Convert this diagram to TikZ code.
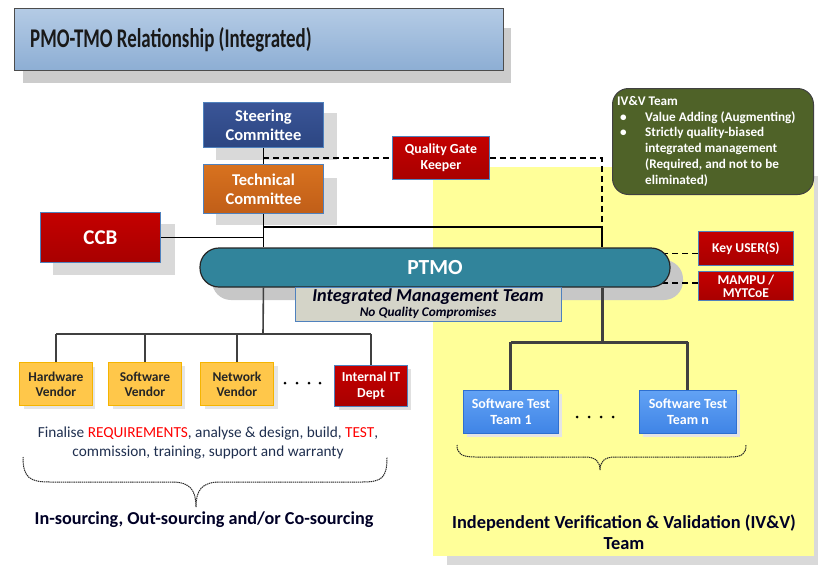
\documentclass[tikz,border=0pt]{standalone}
\usepackage{fontspec}
\setmainfont{Carlito}
\newfontfamily\titlefont[FakeStretch=0.70]{Carlito}
\usetikzlibrary{backgrounds,calc}
\definecolor{cyellow}{HTML}{FFFF99}
\definecolor{cshadow}{HTML}{D9D9D9}
\definecolor{cborder}{HTML}{4F81BD}
\definecolor{cteal}{HTML}{31849B}
\definecolor{colive}{HTML}{4F6228}
\definecolor{cvendor}{HTML}{FFC74A}
\definecolor{cvendorb}{HTML}{F5B400}
\definecolor{cnavy}{HTML}{1F2F4F}
\definecolor{cline}{HTML}{404040}
\definecolor{ctitletop}{HTML}{B4CBE5}
\definecolor{ctitlebot}{HTML}{8DAED4}
\definecolor{csteertop}{HTML}{3A5597}
\definecolor{csteerbot}{HTML}{2C4682}
\definecolor{ctechtop}{HTML}{D8721F}
\definecolor{ctechbot}{HTML}{C05E18}
\definecolor{credtop}{HTML}{C40000}
\definecolor{credbot}{HTML}{A80000}
\definecolor{ctesttop}{HTML}{62A2F4}
\definecolor{ctestbot}{HTML}{3F84E6}
\definecolor{ctestb}{HTML}{2E6FD0}
\definecolor{cimt}{HTML}{D4D4C8}
\begin{document}
\begin{tikzpicture}[x=1pt,y=-1pt,
  box/.style={draw=cborder, line width=0.9pt, inner sep=0pt, anchor=north west, align=center, font=\bfseries},
  redbox/.style={box, top color=credtop, bottom color=credbot, text=white},
  vendbox/.style={box, fill=cvendor, draw=cvendorb, text=black!85, minimum width=73pt, minimum height=43pt, font=\bfseries\fontsize{13.5}{15}\selectfont},
  testbox/.style={box, top color=ctesttop, bottom color=ctestbot, draw=ctestb, text=white, minimum height=43pt, font=\bfseries\fontsize{14}{16}\selectfont},
  conn/.style={line width=1.6pt, black},
  dashc/.style={line width=1.2pt, black, dash pattern=on 6pt off 4pt},
  treel/.style={line width=1.6pt, cline},
  treer/.style={line width=3pt, cline},
  bracec/.style={line width=1pt, black!85, dash pattern=on 1.4pt off 0.7pt},
  shadowc/.style={fill=cshadow, draw=none}]
\useasboundingbox (0,0) rectangle (818,565);

% title
\node[box, draw=black!70, top color=ctitletop, bottom color=ctitlebot, minimum width=489pt, minimum height=62pt] (title) at (14,8) {};
\node[anchor=west, inner sep=0pt, text=black!90, font=\titlefont\bfseries\fontsize{27}{30}\selectfont] (titletext) at (30,40) {PMO-TMO Relationship (Integrated)};

% top nodes
\node[box, top color=csteertop, bottom color=csteerbot, text=white, minimum width=120pt, minimum height=45pt, draw=cborder, font=\bfseries\fontsize{16.5}{19}\selectfont] (st) at (203,102) {Steering\\Committee};
\node[box, top color=ctechtop, bottom color=ctechbot, text=white, minimum width=120pt, minimum height=49pt, draw=cborder, font=\bfseries\fontsize{16.5}{19}\selectfont] (tc) at (203,164) {Technical\\Committee};
\node[redbox, minimum width=97pt, minimum height=43pt, font=\bfseries\fontsize{13.8}{15.5}\selectfont] (qg) at (392,136) {Quality Gate\\Keeper};
\node[redbox, minimum width=120pt, minimum height=50pt, font=\bfseries\fontsize{21}{22}\selectfont] (ccb) at (40,212) {CCB};

% IV&V note
\node[box, draw=black!75, line width=1pt, fill=colive, rounded corners=16pt, minimum width=201pt, minimum height=106pt] (ivv) at (612,88) {};
\node[anchor=north west, inner sep=0pt, text=white, align=left, font=\bfseries\fontsize{13.2}{15.8}\selectfont] (ivvtext) at (617,94) {%
\begin{tabular}{@{}l@{}l@{}}
\multicolumn{2}{@{}l}{IV\&V Team}\\
\makebox[28pt][l]{\hspace{3pt}\textbullet} & Value Adding (Augmenting)\\
\makebox[28pt][l]{\hspace{3pt}\textbullet} & Strictly quality-biased\\
 & integrated management\\
 & (Required, and not to be\\
 & eliminated)
\end{tabular}};

% PTMO
\node[draw=black!85, line width=1.2pt, fill=cteal, rounded corners=19pt, minimum width=470pt, minimum height=39pt, inner sep=0pt, text=white, font=\bfseries\fontsize{21.5}{23}\selectfont] (pt) at (435,267.5) {PTMO};
\node[box, fill=cimt, draw=cborder, minimum width=266pt, minimum height=34pt] (imt) at (295,287) {};
\node[inner sep=0pt, text=black!90!blue, font=\bfseries\itshape\fontsize{18.2}{19}\selectfont] (imtt) at (428,297) {Integrated Management Team};
\node[inner sep=0pt, text=black!90!blue, font=\bfseries\itshape\fontsize{13.3}{14}\selectfont] (imts) at (428,313) {No Quality Compromises};

% right red boxes
\node[redbox, minimum width=95pt, minimum height=34pt, font=\bfseries\fontsize{13.5}{15}\selectfont] (ku) at (698,231) {Key USER(S)};
\node[redbox, minimum width=95pt, minimum height=29pt, font=\bfseries\fontsize{13.5}{13}\selectfont] (mm) at (698,271) {MAMPU /\\MYTCoE};

% vendors
\node[vendbox] (hw) at (19,362) {Hardware\\Vendor};
\node[vendbox] (sw) at (108,362) {Software\\Vendor};
\node[vendbox] (nw) at (200,362) {Network\\Vendor};
\node[redbox, minimum width=73pt, minimum height=41pt, font=\bfseries\fontsize{13.7}{16}\selectfont] (it) at (334,365) {Internal IT\\Dept};

% test teams
\node[testbox, minimum width=95pt] (t1) at (463,390) {Software Test\\Team 1};
\node[testbox, minimum width=97pt] (tn) at (639,390) {Software Test\\Team n};

% texts
\node[align=center, inner sep=0pt, text=cnavy, font=\fontsize{15.3}{19}\selectfont] (fin) at (208,443) {Finalise \textcolor{red}{REQUIREMENTS}, analyse \& design, build, \textcolor{red}{TEST},\\commission, training, support and warranty};
\node[inner sep=0pt, text=black!85!blue, font=\bfseries\fontsize{18.2}{20}\selectfont] (src) at (204,520) {In-sourcing, Out-sourcing and/or Co-sourcing};
\node[align=center, inner sep=0pt, text=black!85!blue, font=\bfseries\fontsize{18.4}{21}\selectfont] (ivvl) at (624,532) {Independent Verification \& Validation (IV\&V)\\Team};

\coordinate (d1) at (263,158);
\coordinate (d2) at (602,158);
\coordinate (j1) at (263,227);
\coordinate (j2) at (602,227);
\coordinate (lt) at (263,334);
\coordinate (rt) at (602,342);

\begin{scope}[on background layer]
  % yellow region with shadow
  \fill[cshadow] (447,176) rectangle (818,565);
  \fill[cyellow] (433,167) rectangle (814,556);
  % shadows
  \fill[shadowc, fill=black!20] (23,28) rectangle (511,83);
  \fill[shadowc] (216,113) rectangle (337,160);
  \fill[shadowc] (216,178) rectangle (337,225);
  \fill[shadowc] (53,224) rectangle (175,275);
  \fill[shadowc, fill=black!22, rounded corners=19pt] (212,260) rectangle (683,300);
  \fill[shadowc, fill=black!10] (24,367) rectangle (95,409);
  \fill[shadowc, fill=black!10] (113,366) rectangle (185,409);
  \fill[shadowc, fill=black!10] (205,366) rectangle (278,409);
  \fill[shadowc, fill=black!12] (339,369) rectangle (411,410);
  \fill[shadowc, fill=black!10] (467,394) rectangle (562,437);
  \fill[shadowc, fill=black!10] (643,394) rectangle (740,437);
  % connectors
  \draw[conn] (st.south) -- (tc.north);
  \draw[dashc] (d1) -- (d1 -| qg.west);
  \draw[dashc] (qg.east |- d2) -- (d2) -- (j2);
  \draw[conn] (tc.south) -- (tc.south |- pt.north);
  \draw[conn] (j1) -- (j2) -- (j2 |- pt.north);
  \draw[conn] (ccb.east) -- (ccb.east -| tc.south);
  \draw[dashc] ($(ku.west)+(0,5)$) -- ($(ku.west -| pt.east)+(-6,5)$);
  \draw[dashc] ($(mm.west)+(0,-3)$) -- ($(mm.west -| pt.east)+(-14,-3)$);
  % left tree
  \draw[treel] (tc.south |- pt.south) -- (lt);
  \draw[treel] (hw.north |- lt) -- (it.north |- lt);
  \draw[treel] (hw.north) -- (hw.north |- lt);
  \draw[treel] (sw.north) -- (sw.north |- lt);
  \draw[treel] (nw.north) -- (nw.north |- lt);
  \draw[treel] (it.north) -- (it.north |- lt);
  % right tree
  \draw[treer] (j2 |- pt.south) -- (rt);
  \draw[treer] (t1.north |- rt) -- (tn.north |- rt);
  \draw[treer] (t1.north) -- (t1.north |- rt);
  \draw[treer] (tn.north) -- (tn.north |- rt);
\end{scope}

% dots
\foreach \x in {285,297,309,320} \fill[black] (\x,383) circle (1.5pt);
\foreach \x in {577,589,601,613} \fill[black] (\x,417) circle (1.5pt);

% braces
\draw[bracec] (23,457) .. controls (23,478) and (30,482) .. (50,482) -- (172,482) .. controls (190,482) and (196,490) .. (196,507) .. controls (196,490) and (202,482) .. (220,482) -- (362,482) .. controls (382,482) and (387,478) .. (387,457);
\draw[bracec] (457,445) .. controls (457,454) and (462,457) .. (475,457) -- (585,457) .. controls (596,457) and (600,462) .. (600,470) .. controls (600,462) and (604,457) .. (615,457) -- (730,457) .. controls (742,457) and (746,454) .. (746,445);
\end{tikzpicture}
\end{document}
